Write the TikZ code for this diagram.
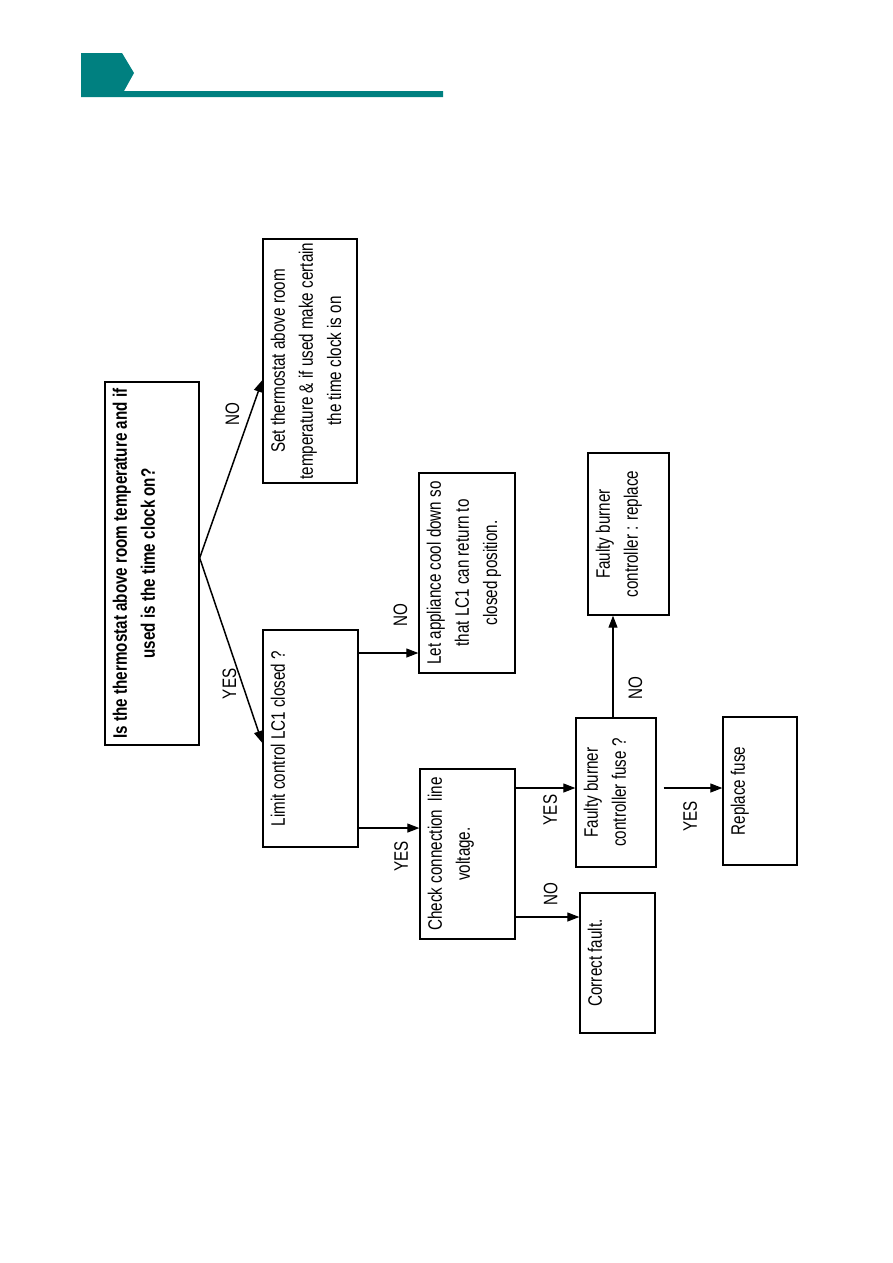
\documentclass[tikz,border=0pt]{standalone}
\usepackage{fontspec}
\setmainfont{Liberation Sans}[FakeStretch=0.78]
\usepackage{tikz}
\usetikzlibrary{calc,arrows.meta}
\definecolor{headteal}{RGB}{0,128,128}
\newlength\pxu
\setlength\pxu{0.6667pt}
\newcommand{\fcfont}{\fontsize{13}{18.7}\selectfont}
% box text: length along the box, depth across it, lines
\newcommand{\fctext}[3]{\parbox[c][#2\pxu][t]{#1\pxu}{\centering\vspace*{5.2pt}#3\par}}
\tikzset{
  fcbox/.style={draw, line width=0.9pt, inner sep=0pt, rotate=90, font=\fcfont},
  fclbl/.style={rotate=90, inner sep=1pt, font=\fcfont},
  fcarr/.style={-{Triangle[length=8pt, width=6pt]}, line width=0.75pt},
  fcdiag/.style={fcarr, line width=1pt},
}
\begin{document}
\begin{tikzpicture}[x=0.6667pt, y=-0.6667pt]
\useasboundingbox (0,0) rectangle (893,1263);
% header bar
\fill[headteal] (81,53) -- (122,53) -- (134,73) -- (124,91) -- (443,91) -- (443,97) -- (81,97) -- cycle;
% boxes
\node[fcbox] (q1)    at (152,563.5) {\fctext{363}{94}{\bfseries Is the thermostat above room temperature and if\\ used is the time clock on?}};
\node[fcbox] (set)   at (310,361)   {\fctext{244}{94}{Set thermostat above room\\ temperature \& if used make certain\\ the time clock is on}};
\node[fcbox] (lim)   at (310.5,738.5) {\fctext{217}{95}{Limit control LC1 closed ?}};
\node[fcbox] (cool)  at (467,573)   {\fctext{200}{96}{Let appliance cool down so\\ that LC1 can return to\\ closed position.}};
\node[fcbox] (chk)   at (467.5,854) {\fctext{170}{95}{Check connection~ line\\ voltage.}};
\node[fcbox] (fix)   at (617.5,963) {\fctext{140}{75}{Correct fault.}};
\node[fcbox] (fuse)  at (616,792.5) {\fctext{149}{80}{Faulty burner\\ controller fuse ?}};
\node[fcbox] (brn)   at (628.5,534) {\fctext{162}{81}{Faulty burner\\ controller : replace}};
\node[fcbox] (rfuse) at (760,791)   {\fctext{148}{74}{Replace fuse}};
% connectors
\coordinate (q1out)   at ([yshift=3.7pt]q1.south);
\coordinate (limno)   at ([yshift=57pt]lim.south);
\coordinate (limyes)  at ([yshift=-59.7pt]lim.south);
\coordinate (chkyes)  at ([yshift=44pt]chk.south);
\coordinate (chkno)   at ([yshift=-42pt]chk.south);
\coordinate (fuseyes) at ([xshift=4.7pt, yshift=3pt]fuse.south);
\coordinate (fuseno)  at ([xshift=-2pt]fuse.east);
\draw[fcdiag] (q1out) -- node[pos=0.81, xshift=-12pt, fclbl] (lno1) {NO} ([yshift=-12.7pt]set.north);
\draw[fcdiag] (q1out) -- node[pos=0.68, xshift=-8.5pt, fclbl] (lyes1) {YES} ([yshift=-3pt]lim.north);
\draw[fcarr] (limno) -- node[pos=0.7, yshift=25pt, fclbl] (lno2) {NO} (limno -| cool.north);
\draw[fcarr] (limyes) -- node[pos=0.7, yshift=-19pt, fclbl] (lyes2) {YES} (limyes -| chk.north);
\draw[fcarr] (chkyes) -- node[pos=0.58, yshift=-14.7pt, fclbl] (lyes3) {YES} (chkyes -| fuse.north);
\draw[fcarr] (chkno) -- node[pos=0.55, yshift=15pt, fclbl] (lno3) {NO} (chkno -| fix.north);
\draw[fcarr] (fuseyes) -- node[pos=0.45, yshift=-19pt, fclbl] (lyes4) {YES} (fuseyes -| rfuse.north);
\draw[fcarr] (fuseno) -- node[pos=0.29, xshift=15pt, fclbl] (lno4) {NO} (fuseno |- brn.west);
\end{tikzpicture}
\end{document}
